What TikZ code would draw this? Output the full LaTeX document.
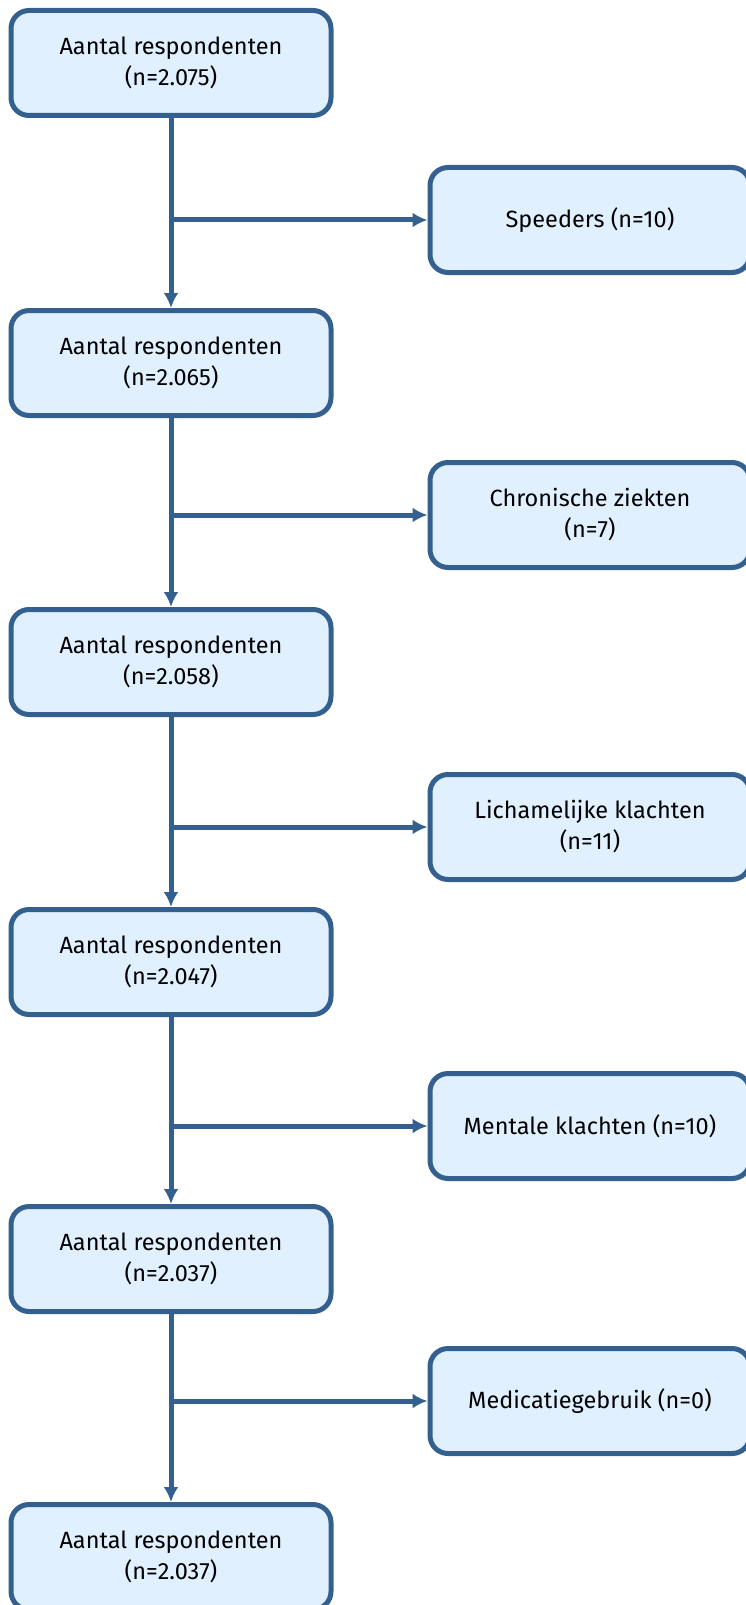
\documentclass[tikz,border=0pt]{standalone}
\usepackage{fontspec}
\setmainfont{Fira Sans}
\usetikzlibrary{arrows.meta, positioning}
\definecolor{flowblue}{RGB}{52,96,143}
\definecolor{flowlight}{RGB}{224,240,254}
\tikzset{
  stepbox/.style = {draw=flowblue, line width=5pt, rounded corners=18pt, fill=flowlight,
                    minimum width=320pt, minimum height=105pt, inner sep=0pt,
                    align=center, font=\fontsize{23.5}{31}\selectfont},
  flow/.style    = {-{Latex[length=15pt, width=15pt]}, line width=5pt, color=flowblue},
}
\begin{document}
\begin{tikzpicture}[x=1pt, y=-1pt]
  \useasboundingbox (0,0) rectangle (746,1605);
  % counts after each exclusion step
  \foreach \i/\y/\n in {1/63/2.075, 2/363/2.065, 3/662/2.058, 4/962/2.047, 5/1259/2.037, 6/1557/2.037} {
    \node[stepbox] (left\i) at (171,\y) {Aantal respondenten\\(n=\n)};
  }
  % excluded groups
  \node[stepbox] (excl1) at (590,220) {Speeders (n=10)};
  \node[stepbox] (excl2) at (590,515) {Chronische ziekten\\(n=7)};
  \node[stepbox] (excl3) at (590,827) {Lichamelijke klachten\\(n=11)};
  \node[stepbox] (excl4) at (590,1126) {Mentale klachten (n=10)};
  \node[stepbox] (excl5) at (590,1401) {Medicatiegebruik (n=0)};
  \foreach \i [evaluate=\i as \j using int(\i+1)] in {1,...,5} {
    \draw[flow] (left\i.south) -- (left\j.north);
    \coordinate (split\i) at (left\i.south |- excl\i.west);
    \draw[flow] (split\i) -- (excl\i.west);
  }
\end{tikzpicture}
\end{document}
